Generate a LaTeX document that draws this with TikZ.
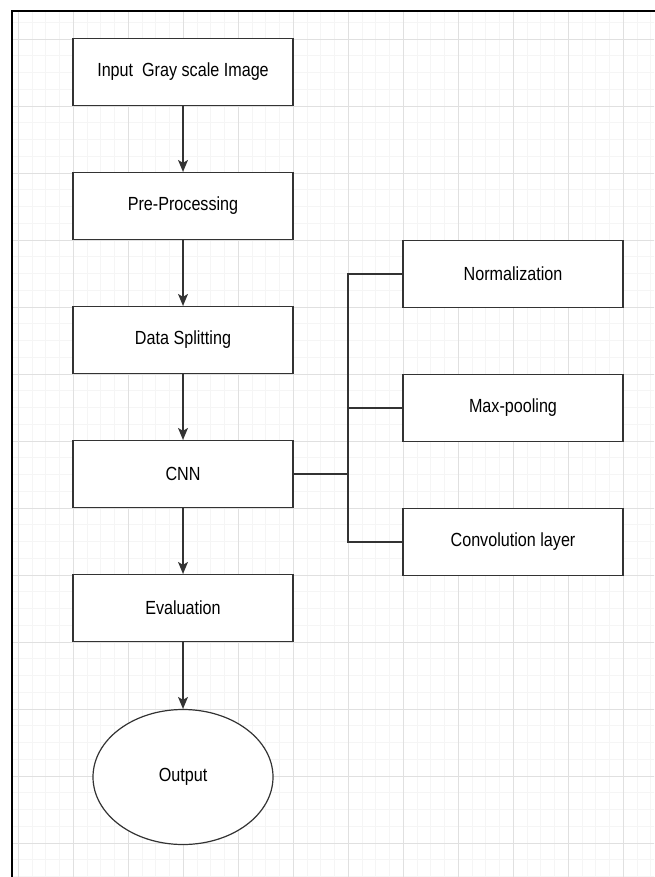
\documentclass[tikz,border=0pt]{standalone}
\usepackage{fontspec}
\setmainfont{Liberation Sans}[FakeStretch=0.85]
\usetikzlibrary{arrows.meta,shapes.geometric}
\tikzset{>={Stealth[length=12pt,width=10pt,inset=3pt]}}

\begin{document}
\begin{tikzpicture}[x=1pt,y=1pt]
                \tikzstyle{every node}=[node distance=134pt, font=\fontsize{19}{22}\selectfont]
                \tikzstyle{box}=[rectangle, draw=black!80, line width=1.2pt, fill=white,
                        minimum width=220pt, minimum height=67pt, inner sep=0pt]
                \tikzstyle{link}=[draw=black!80, line width=1.2pt]
                \useasboundingbox (0,0) rectangle (654,-877);

                % background grid
                \begin{scope}
                        \clip (12,-11) rectangle (654,-877);
                        \begin{scope}[shift={(18.3,-39)}]
                                \draw[black!4, line width=0.8pt, xstep=13.75pt, ystep=16.75pt]
                                        (-20,30) grid (640,-840);
                                \draw[black!12, line width=0.8pt, xstep=55pt, ystep=67pt]
                                        (-20,30) grid (640,-840);
                        \end{scope}
                \end{scope}
                \draw[line width=2pt] (12,-880) -- (12,-11) -- (660,-11);

                \node[box] (input) at (183,-72) {Input\ \ Gray scale Image};
                \node[box] (pre) [below of = input] {Pre-Processing};
                \node[box] (split) [below of = pre] {Data Splitting};
                \node[box] (cnn) [below of = split] {CNN};
                \node[box] (eval) [below of = cnn] {Evaluation};
                \node[ellipse, draw=black!80, line width=1.2pt, fill=white, inner sep=0pt,
                        minimum width=180pt, minimum height=135pt, node distance=169pt]
                        (out) [below of = eval] {Output};

                \node[box] (norm) at (513,-274) {Normalization};
                \node[box] (pool) [below of = norm] {Max-pooling};
                \node[box] (conv) [below of = pool] {Convolution layer};
                \coordinate (bus) at (348,-474);

                \draw[->, link] (input) -- (pre);
                \draw[->, link] (pre) -- (split);
                \draw[->, link] (split) -- (cnn);
                \draw[->, link] (cnn) -- (eval);
                \draw[->, link] (eval) -- (out);

                \draw[link] (cnn.east) -- (bus) |- (norm.west);
                \draw[link] (bus) |- (pool.west);
                \draw[link] (bus) |- (conv.west);
\end{tikzpicture}
\end{document}
